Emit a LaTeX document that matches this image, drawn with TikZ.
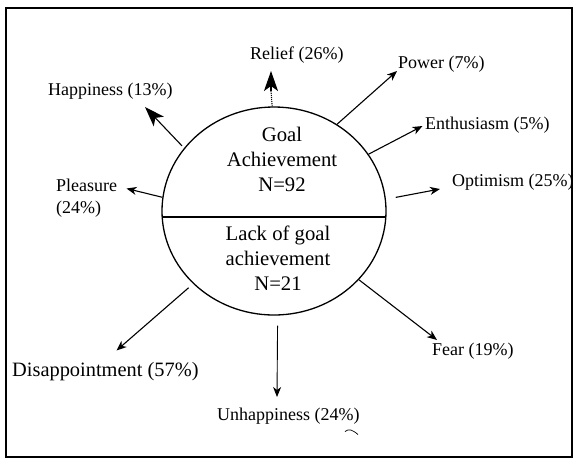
\documentclass[tikz,border=0pt]{standalone}
\usepackage{fontspec}
\setmainfont{Liberation Serif}
\usetikzlibrary{arrows.meta,shapes.geometric}
\begin{document}
\begin{tikzpicture}[x=1pt,y=-1pt,
  lbl/.style={inner sep=0pt, anchor=base west, align=left,
    font=\fontsize{18}{21.6}\selectfont},
  inner/.style={inner sep=0pt, anchor=base, align=center,
    font=\fontsize{20.7}{25}\selectfont},
  conn/.style={line width=1.1pt, -{Stealth[length=10pt,width=8pt,inset=3pt]}},
  bigconn/.style={line width=1.1pt, -{Stealth[length=20pt,width=14pt,inset=5pt]}},
]
\useasboundingbox (0,0) rectangle (575,459);
% outer frame
\draw[line width=1.5pt] (6,8) rectangle (572,457);

% the central split circle
\node[draw, line width=1.3pt, ellipse, minimum width=224pt, minimum height=208pt,
  inner sep=0pt] (circ) at (274,211) {};
\draw[line width=1.3pt] (circ.-177) -- (circ.-3);
% multi-line nodes: the base anchor sits on the last line
\node[inner] (goal) at (282,191.7) {Goal\\Achievement\\N=92};
\node[inner] (lack) at (278,290) {Lack of goal\\achievement\\N=21};

% emotion labels
\node[lbl] (relief) at (250,59.3) {Relief (26\%)};
\node[lbl] (happy) at (48,95) {Happiness (13\%)};
\node[lbl] (power) at (398,68.3) {Power (7\%)};
\node[lbl] (enth) at (425,129) {Enthusiasm (5\%)};
\node[lbl] (optim) at (452,186.7) {Optimism (25\%)};
\node[lbl] (pleas) at (56,213.3) {Pleasure\\(24\%)};
\node[lbl] (fear) at (432,355) {Fear (19\%)};
\node[lbl, font=\fontsize{20.4}{24}\selectfont] (disap) at (12,376) {Disappointment (57\%)};
\node[lbl] (unhap) at (217,420.5) {Unhappiness (24\%)};

% arrow tips
\coordinate (trelief) at (271,71);
\coordinate (brelief) at (271,91);
\coordinate (thappy) at (145,107);
\coordinate (tpower) at (397,71);
\coordinate (tenth) at (422.5,126);
\coordinate (toptim) at (440,189);
\coordinate (tpleas) at (126.5,188.5);
\coordinate (tfear) at (437,340);
\coordinate (tdisap) at (116.5,350.5);
\coordinate (tunhap) at (277,397);

% connectors (the relief shaft is dotted, its head solid)
\draw[line width=1.1pt, densely dotted] (circ.91) -- (brelief);
\draw[bigconn] (brelief) -- (trelief);
\draw[bigconn, shorten <=3pt] (circ.145) -- (thappy);
\draw[conn] (circ.54) -- (tpower);
\draw[conn] (circ.31) -- (tenth);
\draw[conn, shorten <=10pt] (circ.6) -- (toptim);
\draw[conn] (circ.173) -- (tpleas);
\draw[conn] (circ.-39) -- (tfear);
\draw[conn, shorten <=6pt] (circ.-138) -- (tdisap);
\draw[conn, line width=0.9pt, shorten <=10pt] (circ.-88) -- (tunhap);

% small stray mark below the bottom label
\draw[line width=0.7pt] (345,431.5) .. controls (349,428.5) and (352,429.5) .. (358,434.5);
\end{tikzpicture}
\end{document}
